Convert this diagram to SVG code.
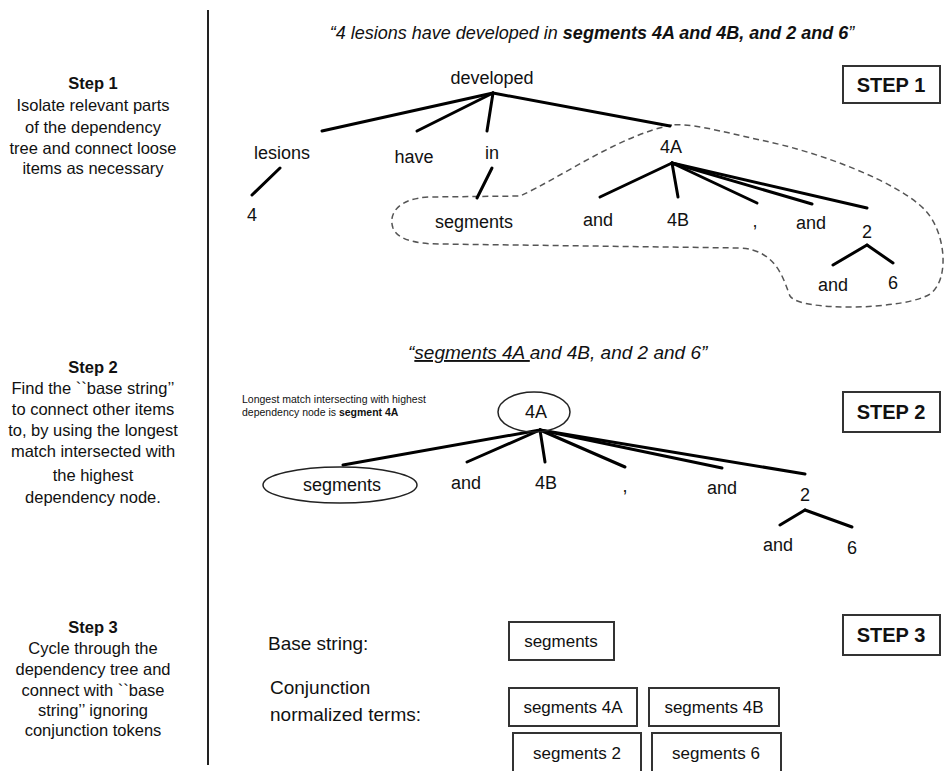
<svg xmlns="http://www.w3.org/2000/svg" width="945" height="771" viewBox="0 0 945 771">
<style>
text{font-family:"Liberation Sans",Arial,sans-serif;fill:#111}
.side{font-size:16.5px;text-anchor:middle}
.sb{font-weight:bold}
.lbl{font-size:18px;text-anchor:middle}
.hdr{font-size:18px;font-style:italic;text-anchor:middle}
.step{font-size:20px;font-weight:bold;text-anchor:middle}
.edge{stroke:#000;stroke-width:3;stroke-linecap:round;fill:none}
.box{fill:#fff;stroke:#333;stroke-width:2}
.ell{fill:none;stroke:#222;stroke-width:1.5}
.dash{fill:none;stroke:#555;stroke-width:1.5;stroke-dasharray:6 4}
.term{font-size:17px;text-anchor:middle}
</style>

<line x1="208" y1="10" x2="208" y2="765" stroke="#222" stroke-width="2"/>

<g id="side1" class="side">
<text x="93" y="89" class="sb">Step 1</text>
<text x="93" y="111">Isolate relevant parts</text>
<text x="93" y="133">of the dependency</text>
<text x="93" y="154">tree and connect loose</text>
<text x="93" y="174">items as necessary</text>
</g>
<g id="side2" class="side">
<text x="93" y="373" class="sb">Step 2</text>
<text x="93" y="394">Find the ``base string’’</text>
<text x="93" y="415">to connect other items</text>
<text x="93" y="436">to, by using the longest</text>
<text x="93" y="457">match intersected with</text>
<text x="93" y="481">the highest</text>
<text x="93" y="503">dependency node.</text>
</g>
<g id="side3" class="side">
<text x="93" y="633" class="sb">Step 3</text>
<text x="93" y="654">Cycle through the</text>
<text x="93" y="675">dependency tree and</text>
<text x="93" y="696">connect with ``base</text>
<text x="93" y="716">string’’ ignoring</text>
<text x="93" y="736">conjunction tokens</text>
</g>

<text id="title1" class="hdr" x="592" y="39">“4 lesions have developed in <tspan font-weight="bold">segments 4A and 4B, and 2 and 6</tspan>”</text>

<g id="step1box"><rect class="box" x="843" y="66" width="97" height="37"/><text class="step" x="891" y="92">STEP 1</text></g>
<g id="step2box"><rect class="box" x="843" y="392" width="97" height="40"/><text class="step" x="891" y="419">STEP 2</text></g>
<g id="step3box"><rect class="box" x="843" y="615" width="97" height="40"/><text class="step" x="891" y="642">STEP 3</text></g>

<path id="isolation" class="dash" d="M672,125 C620,135 560,178 520,196 L430,197 C398,198 388,214 393,228 C398,241 420,244 440,244 L740,248 C778,250 784,282 790,296 C800,312 905,310 930,294 C950,280 946,232 925,210 C898,182 820,152 760,140 C720,131 690,123 672,125 Z"/>

<g id="edges1">
<line class="edge" x1="493" y1="93" x2="322" y2="131"/>
<line class="edge" x1="493" y1="93" x2="417" y2="131"/>
<line class="edge" x1="493" y1="93" x2="487" y2="131"/>
<line class="edge" x1="493" y1="93" x2="670" y2="126"/>
<line class="edge" x1="280" y1="168" x2="252" y2="195"/>
<line class="edge" x1="492" y1="168" x2="477" y2="198"/>
<line class="edge" x1="672" y1="163" x2="600" y2="197"/>
<line class="edge" x1="672" y1="163" x2="678" y2="197"/>
<line class="edge" x1="672" y1="163" x2="757" y2="203"/>
<line class="edge" x1="672" y1="163" x2="812" y2="204"/>
<line class="edge" x1="672" y1="163" x2="867" y2="208"/>
<line class="edge" x1="867" y1="245" x2="833" y2="265"/>
<line class="edge" x1="867" y1="245" x2="893" y2="263"/>
</g>

<g id="tree1" class="lbl">
<g id="n-developed"><text x="492" y="84">developed</text></g>
<g id="n-lesions"><text x="282" y="159">lesions</text></g>
<g id="n-have"><text x="414" y="163">have</text></g>
<g id="n-in"><text x="492" y="159">in</text></g>
<g id="n-4A"><text x="671" y="153">4A</text></g>
<g id="n-4"><text x="252" y="221">4</text></g>
<g id="n-segments"><text x="474" y="228">segments</text></g>
<g id="n-and1"><text x="598" y="226">and</text></g>
<g id="n-4B"><text x="678" y="226">4B</text></g>
<g id="n-comma"><text x="755" y="227">,</text></g>
<g id="n-and2"><text x="811" y="229">and</text></g>
<g id="n-2"><text x="867" y="238">2</text></g>
<g id="n-and3"><text x="833" y="291">and</text></g>
<g id="n-6"><text x="893" y="289">6</text></g>
</g>

<text id="title2" font-size="19" font-style="italic" x="408" y="359">“<tspan text-decoration="underline">segments 4A </tspan>and 4B, and 2 and 6”</text>

<text id="note" font-size="10.5" x="242" y="403">Longest match intersecting with highest</text>
<text font-size="10.5" x="242" y="416">dependency node is <tspan font-weight="bold">segment 4A</tspan></text>

<g id="edges2">
<line class="edge" x1="540" y1="430" x2="343" y2="465"/>
<line class="edge" x1="540" y1="430" x2="467" y2="462"/>
<line class="edge" x1="540" y1="430" x2="545" y2="462"/>
<line class="edge" x1="540" y1="430" x2="625" y2="467"/>
<line class="edge" x1="540" y1="430" x2="722" y2="468"/>
<line class="edge" x1="540" y1="430" x2="805" y2="474"/>
<line class="edge" x1="805" y1="510" x2="780" y2="525"/>
<line class="edge" x1="805" y1="510" x2="852" y2="527"/>
</g>

<g id="tree2" class="lbl">
<g id="m-4A"><ellipse class="ell" cx="534" cy="412" rx="36" ry="20"/><text x="536" y="418">4A</text></g>
<g id="m-segments"><ellipse class="ell" cx="340" cy="485" rx="77" ry="18"/><text x="342" y="491">segments</text></g>
<g id="m-and1"><text x="466" y="489">and</text></g>
<g id="m-4B"><text x="546" y="489">4B</text></g>
<g id="m-comma"><text x="625" y="492">,</text></g>
<g id="m-and2"><text x="722" y="494">and</text></g>
<g id="m-2"><text x="805" y="501">2</text></g>
<g id="m-and3"><text x="778" y="551">and</text></g>
<g id="m-6"><text x="852" y="554">6</text></g>
</g>

<g id="step3" font-size="19">
<text x="268" y="650">Base string:</text>
<text x="270" y="694">Conjunction</text>
<text x="270" y="721">normalized terms:</text>
</g>
<g id="base" class="term"><rect class="box" x="509" y="622" width="105" height="38"/><text x="561" y="647">segments</text></g>
<g id="t4A" class="term"><rect class="box" x="509" y="688" width="128" height="38"/><text x="573" y="713">segments 4A</text></g>
<g id="t4B" class="term"><rect class="box" x="649" y="688" width="130" height="38"/><text x="714" y="713">segments 4B</text></g>
<g id="t2" class="term"><rect class="box" x="513" y="733" width="128" height="40"/><text x="577" y="759">segments 2</text></g>
<g id="t6" class="term"><rect class="box" x="652" y="733" width="129" height="40"/><text x="716" y="759">segments 6</text></g>
</svg>
